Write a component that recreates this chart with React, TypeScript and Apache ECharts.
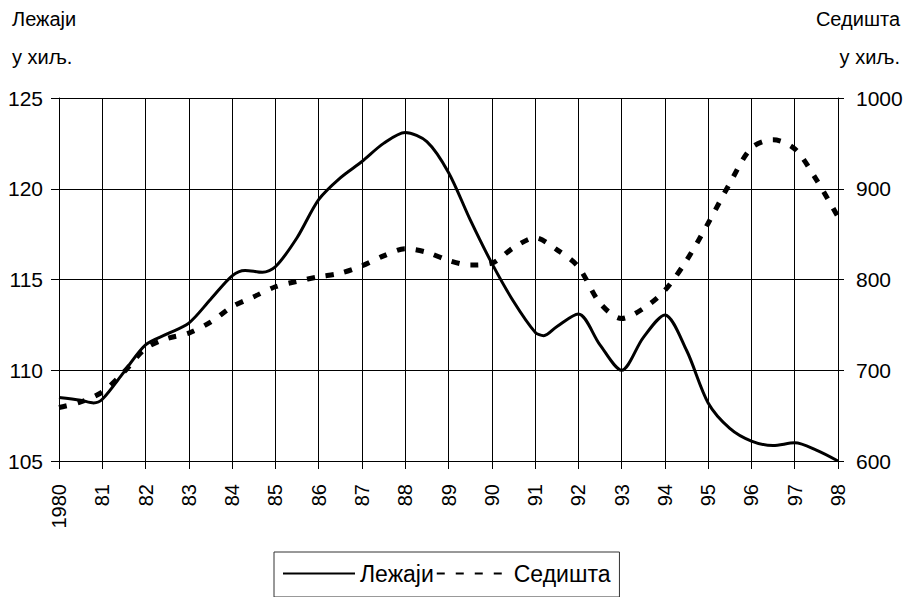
import React, { useEffect, useRef } from "react";
import * as echarts from "echarts";

// Лежаји (left axis, thousands) — sampled positions in years
const bedYears = [1980, 1980.5, 1980.8, 1981, 1981.5, 1982, 1982.5, 1983, 1983.5, 1984, 1984.3, 1984.7, 1985, 1985.5, 1986, 1986.5, 1987, 1987.5, 1988, 1988.5, 1989, 1989.5, 1990, 1990.5, 1991, 1991.2, 1991.5, 1992, 1992.5, 1993, 1993.5, 1994, 1994.5, 1995, 1995.5, 1996, 1996.5, 1997, 1997.5, 1998];
const bedValues = [108.5, 108.35, 108.2, 108.4, 109.9, 111.4, 112.0, 112.6, 113.9, 115.2, 115.5, 115.4, 115.7, 117.3, 119.4, 120.6, 121.5, 122.5, 123.1, 122.6, 120.9, 118.3, 115.9, 113.8, 112.1, 111.9, 112.4, 113.1, 111.4, 110.0, 111.8, 113.05, 111.1, 108.2, 106.8, 106.1, 105.85, 106.0, 105.6, 105.0];

// Седишта (right axis, thousands)
const seatYears = [1980, 1980.5, 1981, 1981.5, 1982, 1982.5, 1983, 1983.5, 1984, 1984.5, 1985, 1985.5, 1986, 1986.5, 1987, 1987.5, 1988, 1988.5, 1989, 1989.5, 1990, 1990.5, 1991, 1991.5, 1992, 1992.5, 1993, 1993.5, 1994, 1994.5, 1995, 1995.5, 1996, 1996.5, 1997, 1997.5, 1998];
const seatValues = [659, 665, 676, 698, 724, 735, 741, 753, 770, 781, 792, 798, 803, 807, 815, 826, 834, 830, 821, 816, 818, 835, 846, 833, 814, 774, 757, 768, 788, 821, 862, 906, 945, 954, 944, 910, 869];

const leftTitle = ["Лежаји", "у хиљ."];
const rightTitle = ["Седишта", "у хиљ."];
const seriesNames = ["Лежаји", "Седишта"];

const FONT = "'Liberation Sans', Arial, sans-serif";

export default function App() {
  const ref = useRef<HTMLDivElement>(null);
  useEffect(() => {
    if (!ref.current) return;
    const chart = echarts.init(ref.current, null, { renderer: "svg" });
    const textStyle = { fontFamily: FONT, fontSize: 20, fill: "#000" };
    chart.setOption({
      animation: false,
      backgroundColor: "#fff",
      textStyle: { fontFamily: FONT, color: "#000" },
      grid: { left: 59, right: 69, top: 98, bottom: 136, containLabel: false },
      graphic: [
        { type: "text", left: 12, top: 9, style: { ...textStyle, text: leftTitle[0] } },
        { type: "text", left: 12, top: 47, style: { ...textStyle, text: leftTitle[1] } },
        { type: "text", right: 7, top: 9, style: { ...textStyle, text: rightTitle[0] } },
        { type: "text", right: 7, top: 47, style: { ...textStyle, text: rightTitle[1] } },
      ],
      legend: {
        left: 274,
        top: 552,
        orient: "horizontal",
        itemWidth: 72,
        itemHeight: 14,
        itemGap: 2,
        padding: [10, 9, 12, 8],
        borderColor: "#333",
        borderWidth: 1,
        itemStyle: { color: "rgba(0,0,0,0)", opacity: 0, borderWidth: 0 },
        textStyle: { fontFamily: FONT, fontSize: 23, color: "#000" },
        data: seriesNames,
      },
      xAxis: {
        type: "value",
        min: 1980,
        max: 1998,
        interval: 1,
        axisLine: { show: true, lineStyle: { color: "#000", width: 1 } },
        axisTick: { show: true, length: 8, lineStyle: { color: "#000" } },
        splitLine: { show: true, lineStyle: { color: "#000", width: 1 } },
        axisLabel: {
          rotate: 90,
          margin: 23,
          fontSize: 20,
          fontFamily: FONT,
          color: "#000",
          formatter: (v: number) => (v === 1980 ? "1980" : String(v).slice(2)),
        },
      },
      yAxis: [
        {
          type: "value",
          min: 105,
          max: 125,
          interval: 5,
          position: "left",
          axisLine: { show: true, lineStyle: { color: "#000" } },
          axisTick: { show: true, length: 8, lineStyle: { color: "#000" } },
          splitLine: { show: true, lineStyle: { color: "#000", width: 1 } },
          axisLabel: { margin: 16, fontSize: 21, fontFamily: FONT, color: "#000" },
        },
        {
          type: "value",
          min: 600,
          max: 1000,
          interval: 100,
          position: "right",
          axisLine: { show: true, lineStyle: { color: "#000" } },
          axisTick: { show: true, length: 6, lineStyle: { color: "#000" } },
          splitLine: { show: false },
          axisLabel: {
            margin: 18,
            fontSize: 21,
            fontFamily: FONT,
            color: "#000",
            formatter: (v: number) => String(v),
          },
        },
      ],
      series: [
        {
          name: seriesNames[0],
          type: "line",
          yAxisIndex: 0,
          smooth: 0.3,
          symbol: "none",
          lineStyle: { color: "#000", width: 3 },
          itemStyle: { color: "#000" },
          data: bedYears.map((y, i) => [y, bedValues[i]]),
        },
        {
          name: seriesNames[1],
          type: "line",
          yAxisIndex: 1,
          smooth: 0.3,
          symbol: "none",
          lineStyle: { color: "#000", width: 5, type: [8, 11] },
          itemStyle: { color: "#000" },
          data: seatYears.map((y, i) => [y, seatValues[i]]),
        },
      ],
    });
    return () => chart.dispose();
  }, []);
  return <div ref={ref} style={{ width: 907, height: 597, position: "absolute", left: 0, top: 0 }} />;
}
